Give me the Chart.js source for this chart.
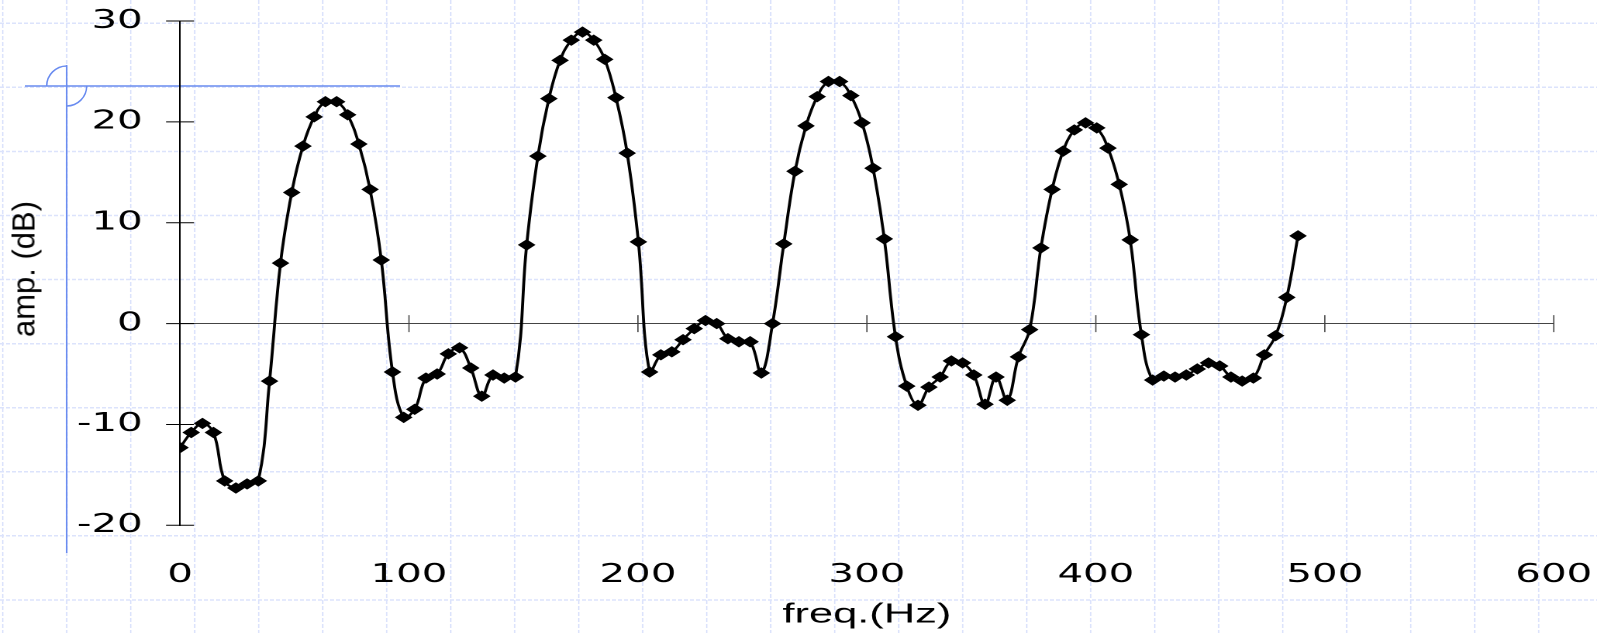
<!DOCTYPE html>
<html>
<head>
<meta charset="utf-8">
<script src="https://cdn.jsdelivr.net/npm/chart.js@4/dist/chart.umd.min.js"></script>
<style>
  html, body { margin: 0; padding: 0; background: #fff; overflow: hidden; }
  #bg { position: absolute; left: 0; top: 0; }
  /* the pasted chart is stretched sideways in the slide */
  #stretch { position: absolute; left: 0; top: 0; width: 1030px; height: 633px;
             transform: scaleX(1.5505); transform-origin: 0 0; }
  #ytitle { position: absolute; left: 24px; top: 269px; color: #000;
            transform: translate(-50%, -50%) rotate(-90deg);
            font: 31px "Liberation Sans", Arial, sans-serif; line-height: 1; white-space: nowrap; }
</style>
</head>
<body>
<canvas id="bg" width="1597" height="633"></canvas>
<div id="stretch"><canvas id="chart" width="1030" height="633"></canvas></div>
<div id="ytitle">amp. (dB)</div>
<script>
// frequency bins (Hz) and measured amplitude (dB)
const freqs = [
  0, 4.9, 9.8, 14.6, 19.5, 24.4, 29.3, 34.2, 39.1, 43.9,
  48.8, 53.7, 58.6, 63.5, 68.4, 73.2, 78.1, 83.0, 87.9, 92.8,
  97.7, 102.5, 107.4, 112.3, 117.2, 122.1, 127.0, 131.8, 136.7, 141.6,
  146.5, 151.4, 156.3, 161.1, 166.0, 170.9, 175.8, 180.7, 185.5, 190.4,
  195.3, 200.2, 205.1, 210.0, 214.8, 219.7, 224.6, 229.5, 234.4, 239.3,
  244.1, 249.0, 253.9, 258.8, 263.7, 268.6, 273.4, 278.3, 283.2, 288.1,
  293.0, 297.9, 302.7, 307.6, 312.5, 317.4, 322.3, 327.1, 332.0, 336.9,
  341.8, 346.7, 351.6, 356.4, 361.3, 366.2, 371.1, 376.0, 380.9, 385.7,
  390.6, 395.5, 400.4, 405.3, 410.2, 415.0, 419.9, 424.8, 429.7, 434.6,
  439.5, 444.3, 449.2, 454.1, 459.0, 463.9, 468.8, 473.6, 478.5, 483.4,
  488.3
];
const amps = [
  -12.3, -10.8, -9.9, -10.8, -15.6, -16.3, -15.9, -15.6, -5.7, 6.0,
  13.0, 17.6, 20.5, 22.0, 22.0, 20.7, 17.8, 13.3, 6.3, -4.8,
  -9.3, -8.5, -5.4, -5.0, -3.0, -2.4, -4.4, -7.2, -5.1, -5.4,
  -5.3, 7.8, 16.6, 22.3, 26.1, 28.1, 28.9, 28.1, 26.2, 22.4,
  16.9, 8.1, -4.8, -3.1, -2.8, -1.6, -0.5, 0.3, 0.0, -1.5,
  -1.8, -1.8, -4.9, 0.0, 7.9, 15.1, 19.6, 22.5, 24.0, 24.0,
  22.6, 19.9, 15.4, 8.4, -1.3, -6.2, -8.1, -6.3, -5.3, -3.7,
  -3.9, -5.1, -8.0, -5.3, -7.6, -3.3, -0.6, 7.5, 13.3, 17.1,
  19.2, 19.9, 19.4, 17.4, 13.8, 8.3, -1.1, -5.6, -5.2, -5.3,
  -5.1, -4.5, -3.9, -4.2, -5.3, -5.7, -5.4, -3.1, -1.2, 2.6,
  8.7
];
const xRange = [0, 600];
const yRange = [-20, 30];
const xStep = 100;
const yStep = 10;

// slide background: dashed blue grid + the crosshair ornament
const drawSlide = () => {
  const bg = document.getElementById('bg').getContext('2d');
  bg.strokeStyle = 'rgba(185,200,250,0.5)';
  bg.lineWidth = 1.5;
  bg.setLineDash([4, 2]);
  bg.beginPath();
  for (let x = 2.7; x < 1597; x += 64) { bg.moveTo(x, 0); bg.lineTo(x, 633); }
  for (let y = 23.3; y < 633; y += 64.07) { bg.moveTo(0, y); bg.lineTo(1597, y); }
  bg.stroke();

  bg.setLineDash([]);
  bg.strokeStyle = '#6a8cf0';
  bg.lineWidth = 1.5;
  bg.beginPath();
  bg.moveTo(25, 86); bg.lineTo(400, 86);
  bg.moveTo(66.7, 65); bg.lineTo(66.7, 553);
  bg.stroke();
  bg.beginPath(); bg.arc(66.7, 86, 20, Math.PI, 1.5 * Math.PI); bg.stroke();
  bg.beginPath(); bg.arc(66.7, 86, 20, 0, 0.5 * Math.PI); bg.stroke();
};
drawSlide();

// tick marks that cross the axes, like the original
const crossTicks = {
  id: 'crossTicks',
  beforeDatasetsDraw(chart) {
    const { ctx, scales: { x, y } } = chart;
    const x0 = x.getPixelForValue(0), y0 = y.getPixelForValue(0);
    ctx.save();
    ctx.strokeStyle = '#000';
    ctx.lineWidth = 1;
    ctx.beginPath();
    y.ticks.forEach(t => {
      const py = y.getPixelForValue(t.value);
      ctx.moveTo(x0 - 9, py); ctx.lineTo(x0 + 9, py);
    });
    ctx.stroke();
    ctx.strokeStyle = '#444';
    ctx.lineWidth = 0.8;
    ctx.beginPath();
    x.ticks.forEach(t => {
      if (t.value === 0) return;
      const px = x.getPixelForValue(t.value);
      ctx.moveTo(px, y0 - 8.5); ctx.lineTo(px, y0 + 8.5);
    });
    ctx.stroke();
    ctx.restore();
  }
};

const tickFont = { family: '"DejaVu Sans", Verdana, sans-serif', size: 26 };

new Chart(document.getElementById('chart'), {
  type: 'line',
  data: {
    datasets: [{
      data: freqs.map((f, i) => ({ x: f, y: amps[i] })),
      borderColor: '#000',
      borderWidth: 1.9,
      tension: 0.4,
      pointStyle: 'rectRot',
      pointRadius: 5,
      pointBackgroundColor: '#000',
      pointBorderColor: '#000',
      pointBorderWidth: 1
    }]
  },
  options: {
    responsive: false,
    animation: false,
    devicePixelRatio: 2,
    layout: { padding: { top: 21, right: 27.9, left: 0, bottom: 0 } },
    plugins: { legend: { display: false }, tooltip: { enabled: false } },
    scales: {
      x: {
        type: 'linear',
        min: xRange[0], max: xRange[1],
        afterFit: s => { s.height = 107.7; s.paddingLeft = 0; s.paddingRight = 0; },
        grid: { display: false },
        border: { display: false },
        ticks: { stepSize: xStep, font: tickFont, color: '#000', padding: 26.3, maxRotation: 0 },
        title: {
          display: true, text: 'freq.(Hz)', color: '#000',
          font: { family: '"Liberation Sans", Arial, sans-serif', size: 28 },
          padding: { top: 0, bottom: 1.5 }
        }
      },
      y: {
        min: yRange[0], max: yRange[1],
        afterFit: s => { s.width = 116.1; s.paddingTop = 0; s.paddingBottom = 0; },
        grid: {
          drawTicks: false,
          color: c => (c.tick && c.tick.value === 0) ? '#444' : 'rgba(0,0,0,0)',
          lineWidth: 1
        },
        border: { display: true, color: '#000', width: 1 },
        ticks: { stepSize: yStep, font: tickFont, color: '#000', padding: 24 }
      }
    }
  },
  plugins: [crossTicks]
});
</script>
</body>
</html>
